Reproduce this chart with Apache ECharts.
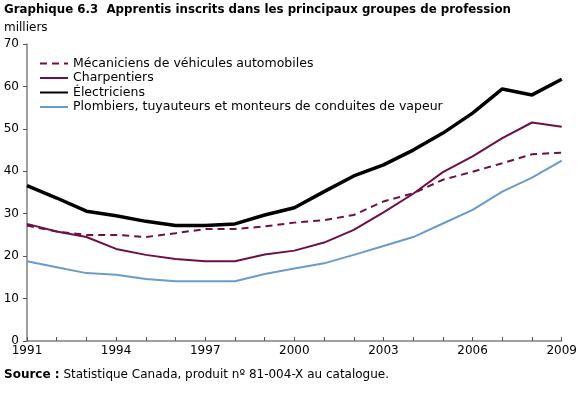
<!DOCTYPE html>
<html>
<head>
<meta charset="utf-8">
<script src="https://cdn.jsdelivr.net/npm/echarts@6/dist/echarts.min.js"></script>
<style>
  html, body { margin: 0; padding: 0; background: #fff; }
  #chart { width: 580px; height: 410px; }
</style>
</head>
<body>
<div id="chart"></div>
<script>
  // données (milliers)
  const years = ['1991', '1992', '1993', '1994', '1995', '1996', '1997', '1998', '1999', '2000',
    '2001', '2002', '2003', '2004', '2005', '2006', '2007', '2008', '2009'];
  const mecaniciens = [27.2, 25.8, 25.0, 25.0, 24.5, 25.4, 26.4, 26.4, 27.0, 27.9,
    28.5, 29.7, 32.9, 34.8, 38.0, 39.9, 41.9, 44.0, 44.4];
  const charpentiers = [27.6, 25.8, 24.5, 21.7, 20.3, 19.3, 18.8, 18.8, 20.4, 21.3,
    23.2, 26.2, 30.3, 34.7, 39.8, 43.5, 47.8, 51.5, 50.5];
  const electriciens = [36.6, 33.7, 30.6, 29.5, 28.2, 27.2, 27.2, 27.6, 29.7, 31.4,
    35.2, 38.9, 41.5, 45.0, 49.0, 53.7, 59.4, 58.0, 61.7];
  const plombiers = [18.8, 17.4, 16.0, 15.6, 14.6, 14.1, 14.1, 14.1, 15.8, 17.1,
    18.3, 20.3, 22.4, 24.5, 27.7, 30.9, 35.2, 38.5, 42.5];

  const font = 'DejaVu Sans, Verdana, sans-serif';
  const maroon = '#6e1048';

  const chart = echarts.init(document.getElementById('chart'));
  chart.setOption({
    animation: false,
    textStyle: {fontFamily: font},
    grid: {left: 27, right: 18, top: 44, bottom: 69, containLabel: false},
    graphic: [
      {type: 'text', left: 4, top: 4, style: {text: 'Graphique 6.3  Apprentis inscrits dans les principaux groupes de profession',
        font: 'bold 11.8px ' + font, fill: '#000'}},
      {type: 'text', left: 4, top: 22, style: {text: 'milliers', font: '12px ' + font, fill: '#000'}},
      {type: 'text', left: 4, top: 369, style: {
        text: '{b|Source :} Statistique Canada, produit nº 81-004-X au catalogue.',
        font: '12px ' + font, fill: '#000',
        rich: {b: {fontWeight: 'bold', fontSize: 12, fontFamily: font}}
      }}
    ],
    legend: {
      orient: 'vertical', left: 34, top: 52,
      itemWidth: 28, itemHeight: 12, itemGap: 1.5,
      itemStyle: {opacity: 0, borderWidth: 0},
      textStyle: {fontSize: 12.5, color: '#000', fontFamily: font},
      data: ['Mécaniciens de véhicules automobiles', 'Charpentiers', 'Électriciens',
        'Plombiers, tuyauteurs et monteurs de conduites de vapeur']
    },
    xAxis: {
      type: 'category', data: years, boundaryGap: false,
      axisLine: {lineStyle: {color: '#808080', width: 1.5}},
      axisTick: {inside: true, length: 4, interval: 0, lineStyle: {color: '#555'}},
      axisLabel: {interval: 2, color: '#000', fontSize: 12, margin: 4, fontFamily: font}
    },
    yAxis: {
      type: 'value', min: 0, max: 70, interval: 10,
      splitLine: {show: false},
      axisLine: {show: true, lineStyle: {color: '#808080', width: 1.5}},
      axisTick: {show: true, length: 4, lineStyle: {color: '#555'}},
      axisLabel: {color: '#000', fontSize: 12, margin: 8, fontFamily: font}
    },
    series: [
      {name: 'Mécaniciens de véhicules automobiles', type: 'line', data: mecaniciens, symbol: 'none',
        lineStyle: {color: maroon, width: 2, type: [7, 5]}, itemStyle: {color: maroon}},
      {name: 'Charpentiers', type: 'line', data: charpentiers, symbol: 'none',
        lineStyle: {color: maroon, width: 2}, itemStyle: {color: maroon}},
      {name: 'Électriciens', type: 'line', data: electriciens, symbol: 'none',
        lineStyle: {color: '#000', width: 3.5}, itemStyle: {color: '#000'}},
      {name: 'Plombiers, tuyauteurs et monteurs de conduites de vapeur', type: 'line', data: plombiers, symbol: 'none',
        lineStyle: {color: '#6b9bc8', width: 2}, itemStyle: {color: '#6b9bc8'}}
    ]
  });
</script>
</body>
</html>
